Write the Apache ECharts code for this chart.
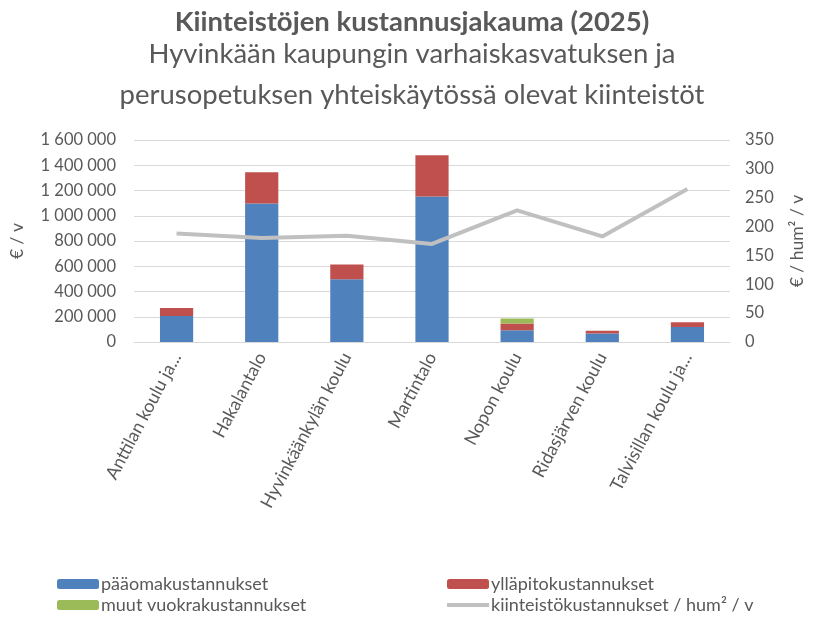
<!DOCTYPE html>
<html>
<head>
    <meta charset="UTF-8"/>
    <title>Kiinteistöjen kustannusjakauma</title>
    <script src="https://cdn.jsdelivr.net/npm/echarts@6/dist/echarts.min.js"></script>
</head>
<body style="margin:0;">
<div id="main" style="width: 814px;height:621px;"></div>
<script>
    // data
    var categories = ['Anttilan koulu ja...', 'Hakalantalo', 'Hyvinkäänkylän koulu', 'Martintalo', 'Nopon koulu', 'Ridasjärven koulu', 'Talvisillan koulu ja...'];
    var paaoma = [206000, 1098000, 497000, 1153000, 93000, 67000, 119000];
    var yllapito = [64000, 246000, 117000, 326000, 53000, 23000, 37000];
    var muut = [0, 0, 0, 0, 40000, 0, 0];
    var perHum = [188, 180, 184, 170, 228, 183, 265];

    var font = 'Lato';
    var grey = '#595959';

    function fmt(v) {
        return String(v).replace(/\B(?=(\d{3})+(?!\d))/g, ' ');
    }

    var myChart = echarts.init(document.getElementById('main'));

    var legendText = {fontSize: 18, color: grey, padding: [0, 0, 0, -3]};

    var option = {
        textStyle: {fontFamily: font},
        title: [
            {
                text: 'Kiinteistöjen kustannusjakauma (2025)',
                left: 407, top: 3, textAlign: 'center',
                textStyle: {fontSize: 27.5, fontWeight: 'bold', color: grey, fontFamily: font}
            },
            {
                text: 'Hyvinkään kaupungin varhaiskasvatuksen ja\nperusopetuksen yhteiskäytössä olevat kiinteistöt',
                left: 407, top: 29, textAlign: 'center',
                textStyle: {fontSize: 27.5, fontWeight: 'normal', color: grey, lineHeight: 41, fontFamily: font}
            }
        ],
        legend: [
            {
                orient: 'vertical', left: 57, top: 575, height: 60, padding: 0, itemGap: 3,
                itemWidth: 42, itemHeight: 10,
                textStyle: legendText,
                data: ['pääomakustannukset', 'muut vuokrakustannukset']
            },
            {
                orient: 'vertical', left: 447, top: 575, height: 60, padding: 0, itemGap: 3,
                itemWidth: 42, itemHeight: 10,
                textStyle: legendText,
                data: ['ylläpitokustannukset',
                    {name: 'kiinteistökustannukset / hum² / v', icon: 'path://M0,3L42,3L42,7L0,7Z'}]
            }
        ],
        grid: {left: 133, right: 77, top: 140, bottom: 279},
        xAxis: {
            type: 'category',
            data: categories,
            axisLine: {lineStyle: {color: '#d9d9d9'}},
            axisTick: {show: false},
            axisLabel: {rotate: 62, interval: 0, fontSize: 18, color: grey, margin: 12}
        },
        yAxis: [
            {
                type: 'value', min: 0, max: 1600000, interval: 200000,
                name: '€ / v', nameLocation: 'middle', nameRotate: 90, nameGap: 108,
                nameTextStyle: {fontSize: 17.5, color: grey},
                axisLabel: {fontSize: 16.5, color: grey, formatter: fmt, margin: 18},
                splitLine: {lineStyle: {color: '#d9d9d9'}}
            },
            {
                type: 'value', min: 0, max: 350, interval: 50,
                name: '€ / hum² / v', nameLocation: 'middle', nameRotate: 90, nameGap: 58,
                nameTextStyle: {fontSize: 17.5, color: grey},
                axisLabel: {fontSize: 16.5, color: grey, margin: 15},
                splitLine: {show: false}
            }
        ],
        series: [
            {
                name: 'pääomakustannukset', type: 'bar', stack: 'k', barWidth: '39%',
                itemStyle: {color: '#4f81bd'}, data: paaoma
            },
            {
                name: 'ylläpitokustannukset', type: 'bar', stack: 'k',
                itemStyle: {color: '#c0504d'}, data: yllapito
            },
            {
                name: 'muut vuokrakustannukset', type: 'bar', stack: 'k',
                itemStyle: {color: '#9bbb59'}, data: muut
            },
            {
                name: 'kiinteistökustannukset / hum² / v', type: 'line', yAxisIndex: 1,
                symbol: 'none', lineStyle: {color: '#c0c0c0', width: 4},
                itemStyle: {color: '#c0c0c0'}, data: perHum
            }
        ]
    };

    myChart.setOption(option);
</script>
</body>
</html>
